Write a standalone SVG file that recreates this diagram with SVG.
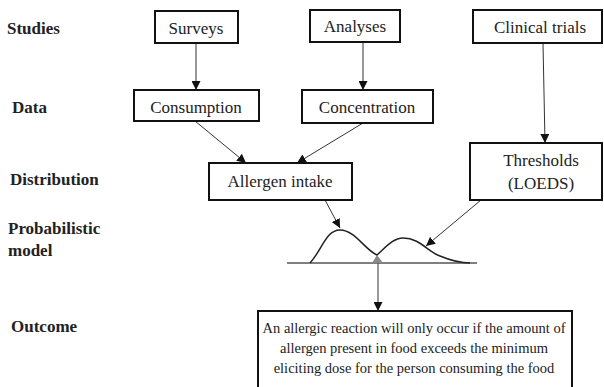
<svg xmlns="http://www.w3.org/2000/svg" width="604" height="387" viewBox="0 0 604 387">
<style>
.lbl{font-size:17px;font-weight:bold;fill:#222}
.box{fill:#fff;stroke:#111;stroke-width:2}
.t{font-size:17px;fill:#222;text-anchor:middle}
.o{font-size:14.5px;fill:#222;text-anchor:middle}
.c{stroke:#333;stroke-width:1;fill:none}
</style>
<defs>
<marker id="ah" viewBox="0 0 10 10" refX="10" refY="5" markerWidth="9" markerHeight="9" markerUnits="userSpaceOnUse" orient="auto">
<path d="M0,0 L10,5 L0,10 Z" fill="#111"/>
</marker>
</defs>
<rect width="604" height="387" fill="#fff"/>
<g id="labels">
<text class="lbl" font-family="Liberation Serif" style="font-family:'Liberation Serif',serif" x="7" y="34">Studies</text>
<text class="lbl" font-family="Liberation Serif" style="font-family:'Liberation Serif',serif" x="12" y="113">Data</text>
<text class="lbl" font-family="Liberation Serif" style="font-family:'Liberation Serif',serif" x="10" y="185">Distribution</text>
<text class="lbl" font-family="Liberation Serif" style="font-family:'Liberation Serif',serif" x="8" y="234">Probabilistic</text>
<text class="lbl" font-family="Liberation Serif" style="font-family:'Liberation Serif',serif" x="8" y="256">model</text>
<text class="lbl" font-family="Liberation Serif" style="font-family:'Liberation Serif',serif" x="11" y="332">Outcome</text>
</g>
<g id="connectors">
<line class="c" x1="196" y1="43" x2="196" y2="90" marker-end="url(#ah)"/>
<line class="c" x1="363" y1="42" x2="363" y2="90" marker-end="url(#ah)"/>
<line class="c" x1="543" y1="43" x2="545" y2="143" marker-end="url(#ah)"/>
<line class="c" x1="195" y1="121" x2="246" y2="163" marker-end="url(#ah)"/>
<line class="c" x1="363" y1="123" x2="297" y2="163" marker-end="url(#ah)"/>
<line class="c" x1="325" y1="200" x2="340" y2="228" marker-end="url(#ah)"/>
<line class="c" x1="481" y1="200" x2="426" y2="246" marker-end="url(#ah)"/>
<line x1="378" y1="263" x2="378" y2="311" stroke="#777" stroke-width="1.5" marker-end="url(#ah)"/>
</g>
<g id="model">
<line x1="287" y1="263" x2="477" y2="263" stroke="#555" stroke-width="1.3"/>
<path d="M372,263 L377,255 L383,263 Z" fill="#888"/>
<path d="M310,263 C322,250 326,230 340,230 C355,230 365,250 377,255 C385,248 393,238 403,238 C420,238 428,252 440,256 C452,261 460,263 470,263" fill="none" stroke="#222" stroke-width="1.5"/>
</g>
<g id="surveys"><rect class="box" x="155" y="11" width="83" height="32"/><text class="t" font-family="Liberation Serif" style="font-family:'Liberation Serif',serif" x="196" y="34">Surveys</text></g>
<g id="analyses"><rect class="box" x="310" y="10" width="90" height="32"/><text class="t" font-family="Liberation Serif" style="font-family:'Liberation Serif',serif" x="355" y="32">Analyses</text></g>
<g id="clinical"><rect class="box" x="473" y="10" width="129" height="33"/><text class="t" font-family="Liberation Serif" style="font-family:'Liberation Serif',serif" x="540" y="33">Clinical trials</text></g>
<g id="consumption"><rect class="box" x="134" y="90" width="125" height="31"/><text class="t" font-family="Liberation Serif" style="font-family:'Liberation Serif',serif" x="196" y="113">Consumption</text></g>
<g id="concentration"><rect class="box" x="302" y="90" width="131" height="33"/><text class="t" font-family="Liberation Serif" style="font-family:'Liberation Serif',serif" x="367" y="113">Concentration</text></g>
<g id="intake"><rect class="box" x="209" y="163" width="143" height="37"/><text class="t" font-family="Liberation Serif" style="font-family:'Liberation Serif',serif" x="280" y="187">Allergen intake</text></g>
<g id="thresholds"><rect class="box" x="470" y="143" width="132" height="57"/><text class="t" font-family="Liberation Serif" style="font-family:'Liberation Serif',serif" x="541" y="166">Thresholds</text><text class="t" font-family="Liberation Serif" style="font-family:'Liberation Serif',serif" x="541" y="189">(LOEDS)</text></g>
<g id="outcome"><rect class="box" x="258" y="311" width="314" height="84"/>
<text class="o" font-family="Liberation Serif" style="font-family:'Liberation Serif',serif" x="414" y="333">An allergic reaction will only occur if the amount of</text>
<text class="o" font-family="Liberation Serif" style="font-family:'Liberation Serif',serif" x="414" y="353">allergen present in food exceeds the minimum</text>
<text class="o" font-family="Liberation Serif" style="font-family:'Liberation Serif',serif" x="414" y="373">eliciting dose for the person consuming the food</text>
</g>
</svg>
